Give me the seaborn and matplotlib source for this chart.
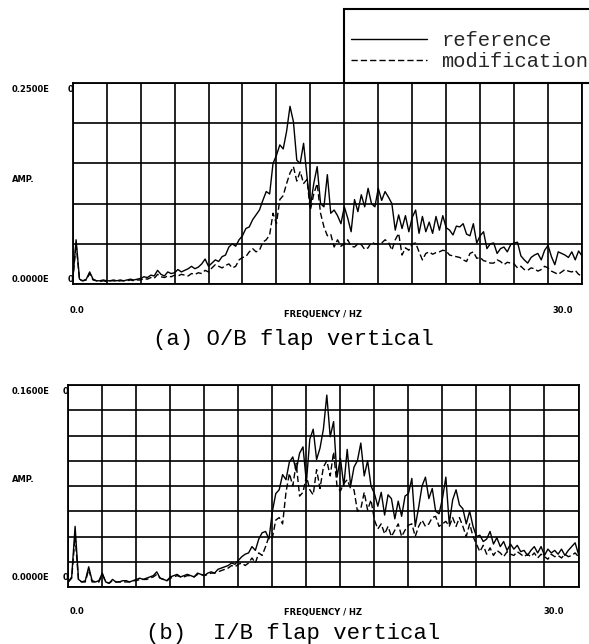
import numpy as np
import pandas as pd
import matplotlib
matplotlib.use("Agg")
import matplotlib.pyplot as plt
import seaborn as sns
from matplotlib.patches import Rectangle

# ---------------- data ----------------
freq = np.round(np.linspace(0.0, 30.0, 151), 1)  # Hz, 0.2 Hz spacing

ob_ref = [
    0.004, 0.055, 0.006, 0.004, 0.006, 0.015, 0.006, 0.004, 0.004, 0.005,
    0.004, 0.004, 0.005, 0.004, 0.005, 0.004, 0.005, 0.006, 0.005, 0.006,
    0.007, 0.009, 0.008, 0.011, 0.010, 0.017, 0.012, 0.010, 0.015, 0.013,
    0.014, 0.018, 0.015, 0.017, 0.019, 0.022, 0.019, 0.021, 0.025, 0.031,
    0.022, 0.026, 0.030, 0.028, 0.034, 0.036, 0.046, 0.050, 0.047, 0.055,
    0.060, 0.069, 0.071, 0.080, 0.086, 0.092, 0.104, 0.115, 0.112, 0.150,
    0.160, 0.173, 0.168, 0.190, 0.221, 0.202, 0.154, 0.150, 0.175, 0.134,
    0.096, 0.125, 0.146, 0.100, 0.096, 0.136, 0.088, 0.092, 0.085, 0.075,
    0.096, 0.082, 0.065, 0.105, 0.090, 0.111, 0.096, 0.119, 0.100, 0.096,
    0.119, 0.104, 0.115, 0.108, 0.100, 0.067, 0.086, 0.069, 0.085, 0.065,
    0.083, 0.092, 0.063, 0.084, 0.065, 0.077, 0.063, 0.084, 0.067, 0.085,
    0.070, 0.067, 0.061, 0.072, 0.071, 0.075, 0.062, 0.060, 0.075, 0.051,
    0.060, 0.065, 0.044, 0.050, 0.051, 0.038, 0.044, 0.046, 0.040, 0.049,
    0.051, 0.052, 0.035, 0.030, 0.026, 0.033, 0.036, 0.038, 0.030, 0.042,
    0.048, 0.034, 0.024, 0.040, 0.038, 0.036, 0.033, 0.040, 0.030, 0.041,
    0.035,
]

ob_mod = [
    0.004, 0.050, 0.005, 0.004, 0.005, 0.013, 0.005, 0.004, 0.003, 0.004,
    0.003, 0.004, 0.004, 0.003, 0.004, 0.004, 0.004, 0.005, 0.004, 0.005,
    0.005, 0.007, 0.006, 0.008, 0.007, 0.012, 0.009, 0.008, 0.010, 0.009,
    0.011, 0.010, 0.012, 0.011, 0.010, 0.013, 0.012, 0.014, 0.013, 0.017,
    0.015, 0.020, 0.024, 0.022, 0.020, 0.023, 0.025, 0.020, 0.022, 0.030,
    0.033, 0.034, 0.040, 0.044, 0.040, 0.042, 0.052, 0.055, 0.061, 0.088,
    0.075, 0.105, 0.110, 0.125, 0.138, 0.146, 0.128, 0.140, 0.125, 0.130,
    0.092, 0.112, 0.125, 0.088, 0.071, 0.060, 0.062, 0.046, 0.055, 0.047,
    0.050, 0.055, 0.047, 0.046, 0.050, 0.049, 0.043, 0.045, 0.052, 0.050,
    0.050, 0.051, 0.055, 0.052, 0.042, 0.055, 0.063, 0.036, 0.045, 0.042,
    0.050, 0.051, 0.040, 0.030, 0.038, 0.040, 0.037, 0.039, 0.040, 0.042,
    0.041, 0.036, 0.035, 0.034, 0.033, 0.030, 0.028, 0.038, 0.040, 0.032,
    0.033, 0.029, 0.028, 0.026, 0.026, 0.030, 0.028, 0.024, 0.027, 0.026,
    0.025, 0.020, 0.022, 0.018, 0.017, 0.020, 0.019, 0.016, 0.018, 0.022,
    0.020, 0.016, 0.014, 0.012, 0.015, 0.018, 0.016, 0.015, 0.017, 0.012,
    0.010,
]

ib_ref = [
    0.004, 0.008, 0.048, 0.006, 0.004, 0.005, 0.016, 0.005, 0.004, 0.005,
    0.011, 0.004, 0.003, 0.006, 0.004, 0.004, 0.005, 0.005, 0.004, 0.005,
    0.006, 0.007, 0.006, 0.007, 0.008, 0.009, 0.012, 0.007, 0.006, 0.005,
    0.008, 0.009, 0.010, 0.008, 0.009, 0.010, 0.009, 0.008, 0.011, 0.010,
    0.009, 0.011, 0.012, 0.011, 0.014, 0.015, 0.016, 0.017, 0.019, 0.018,
    0.021, 0.024, 0.026, 0.027, 0.032, 0.029, 0.038, 0.043, 0.044, 0.038,
    0.060, 0.074, 0.077, 0.089, 0.085, 0.099, 0.103, 0.092, 0.106, 0.111,
    0.083, 0.117, 0.125, 0.101, 0.110, 0.125, 0.152, 0.119, 0.131, 0.087,
    0.102, 0.080, 0.109, 0.080, 0.095, 0.100, 0.114, 0.088, 0.100, 0.080,
    0.074, 0.064, 0.075, 0.057, 0.073, 0.070, 0.054, 0.068, 0.056, 0.072,
    0.074, 0.086, 0.048, 0.063, 0.080, 0.087, 0.070, 0.078, 0.060, 0.058,
    0.070, 0.087, 0.050, 0.069, 0.077, 0.065, 0.062, 0.050, 0.060, 0.048,
    0.040, 0.041, 0.036, 0.038, 0.044, 0.034, 0.039, 0.032, 0.036, 0.029,
    0.034, 0.030, 0.033, 0.028, 0.029, 0.025, 0.029, 0.032, 0.027, 0.032,
    0.025, 0.030, 0.027, 0.029, 0.026, 0.030, 0.025, 0.029, 0.032, 0.035,
    0.026,
]

ib_mod = [
    0.004, 0.007, 0.040, 0.005, 0.004, 0.004, 0.014, 0.004, 0.004, 0.004,
    0.010, 0.004, 0.003, 0.005, 0.004, 0.004, 0.004, 0.004, 0.004, 0.005,
    0.005, 0.006, 0.006, 0.006, 0.007, 0.008, 0.010, 0.007, 0.006, 0.005,
    0.007, 0.008, 0.009, 0.008, 0.008, 0.009, 0.009, 0.008, 0.010, 0.010,
    0.009, 0.010, 0.011, 0.011, 0.012, 0.013, 0.014, 0.015, 0.017, 0.016,
    0.018, 0.019, 0.017, 0.019, 0.023, 0.019, 0.027, 0.025, 0.032, 0.040,
    0.039, 0.053, 0.055, 0.050, 0.075, 0.090, 0.080, 0.098, 0.072, 0.075,
    0.088, 0.077, 0.073, 0.093, 0.078, 0.095, 0.100, 0.088, 0.107, 0.080,
    0.076, 0.082, 0.085, 0.078, 0.077, 0.060, 0.062, 0.075, 0.061, 0.069,
    0.053, 0.046, 0.050, 0.042, 0.048, 0.040, 0.045, 0.050, 0.040, 0.045,
    0.049, 0.050, 0.040, 0.048, 0.053, 0.048, 0.050, 0.055, 0.056, 0.048,
    0.050, 0.052, 0.048, 0.055, 0.048, 0.055, 0.048, 0.040, 0.050, 0.040,
    0.034, 0.028, 0.033, 0.026, 0.031, 0.025, 0.029, 0.027, 0.024, 0.028,
    0.026, 0.025, 0.028, 0.026, 0.024, 0.026, 0.024, 0.027, 0.023, 0.026,
    0.024, 0.022, 0.026, 0.024, 0.025, 0.023, 0.026, 0.024, 0.025, 0.027,
    0.024,
]

series_labels = ["reference", "modification"]
panel_captions = ["(a) O/B flap vertical", "(b)  I/B flap vertical"]
ymax_labels = ["0.2500E", "0.1600E"]
ymin_label = "0.0000E"
x_labels = ["0.0", "FREQUENCY / HZ", "30.0"]
ymax_vals = [0.25, 0.16]
ystep_vals = [0.05, 0.02]

# ---------------- figure ----------------
sns.set_style("white")
plt.rcParams["font.family"] = ["DejaVu Sans"]

W, H = 589, 644
fig = plt.figure(figsize=(W / 100, H / 100), dpi=100)
fig.patch.set_facecolor("white")


def fx(px):
    return px / W


def fy(py):
    return 1 - py / H


mono = "Liberation Mono"
small = dict(fontsize=6, fontweight="bold", family="DejaVu Sans", color="black")

panels = [
    dict(rect=(72.7, 83, 582, 284), ref=ob_ref, mod=ob_mod,
         ymax=ymax_vals[0], ystep=ystep_vals[0], ytop_lab=ymax_labels[0],
         ylab_top=89.5, ylab_amp=179, ylab_bot=279, zero_x=70,
         xlab_y=310, freq_y=314, lab30_x=563, lab00_x=76.5,
         cap=panel_captions[0], cap_y=340),
    dict(rect=(68.3, 385, 578.5, 587), ref=ib_ref, mod=ib_mod,
         ymax=ymax_vals[1], ystep=ystep_vals[1], ytop_lab=ymax_labels[1],
         ylab_top=391, ylab_amp=480, ylab_bot=578, zero_x=65.5,
         xlab_y=612, freq_y=613, lab30_x=554, lab00_x=76.5,
         cap=panel_captions[1], cap_y=633),
]

handles = None
for p in panels:
    x0, y0, x1, y1 = p["rect"]
    ax = fig.add_axes([fx(x0), fy(y1), (x1 - x0) / W, (y1 - y0) / H])
    df = pd.DataFrame({"freq": freq, "ref": p["ref"], "mod": p["mod"]})
    sns.lineplot(data=df, x="freq", y="ref", ax=ax, color="black", lw=1.0,
                 estimator=None, label=series_labels[0])
    sns.lineplot(data=df, x="freq", y="mod", ax=ax, color="black", lw=1.0,
                 linestyle=(0, (4.5, 2.2)), estimator=None,
                 label=series_labels[1])
    ax.set_xlim(0, 30)
    ax.set_ylim(0, p["ymax"])
    ax.set_xticks(np.arange(0, 30.01, 2))
    ax.set_yticks(np.arange(0, p["ymax"] + 1e-9, p["ystep"]))
    ax.tick_params(length=0, labelbottom=False, labelleft=False)
    ax.grid(True, color="black", lw=1.2)
    ax.set_axisbelow(True)
    for s in ax.spines.values():
        s.set_color("black")
        s.set_linewidth(1.3)
    ax.set_xlabel("")
    ax.set_ylabel("")
    handles, labels = ax.get_legend_handles_labels()
    ax.get_legend().remove()

    # axis annotations in the old plotter style
    fig.text(fx(49), fy(p["ylab_top"]), p["ytop_lab"], ha="right", va="center", **small)
    fig.text(fx(p["zero_x"]), fy(p["ylab_top"]), "0", ha="center", va="center", **small)
    fig.text(fx(12), fy(p["ylab_amp"]), "AMP.", ha="left", va="center", **small)
    fig.text(fx(49), fy(p["ylab_bot"]), ymin_label, ha="right", va="center", **small)
    fig.text(fx(p["zero_x"]), fy(p["ylab_bot"]), "0", ha="center", va="center", **small)
    fig.text(fx(p["lab00_x"]), fy(p["xlab_y"]), x_labels[0], ha="center", va="center", **small)
    fig.text(fx(323), fy(p["freq_y"]), x_labels[1], ha="center", va="center", **small)
    fig.text(fx(p["lab30_x"]), fy(p["xlab_y"]), x_labels[2], ha="center", va="center", **small)
    fig.text(fx(293), fy(p["cap_y"]), p["cap"], ha="center", va="center",
             family=mono, fontsize=16, color="black")

# legend box at the top right
fig.add_artist(Rectangle((fx(344), fy(83)), (W + 10 - 344) / W, 74 / H,
                         transform=fig.transFigure, fill=False,
                         edgecolor="black", lw=1.5, clip_on=False))
fig.legend(handles, series_labels, loc="center left",
           bbox_to_anchor=(fx(344), fy(51)), bbox_transform=fig.transFigure,
           frameon=False, prop={"family": mono, "size": 14.8},
           handlelength=3.7, handletextpad=0.7, borderpad=0.33,
           borderaxespad=0, labelspacing=0.1)

fig.savefig("out.png", dpi=100, facecolor="white")
